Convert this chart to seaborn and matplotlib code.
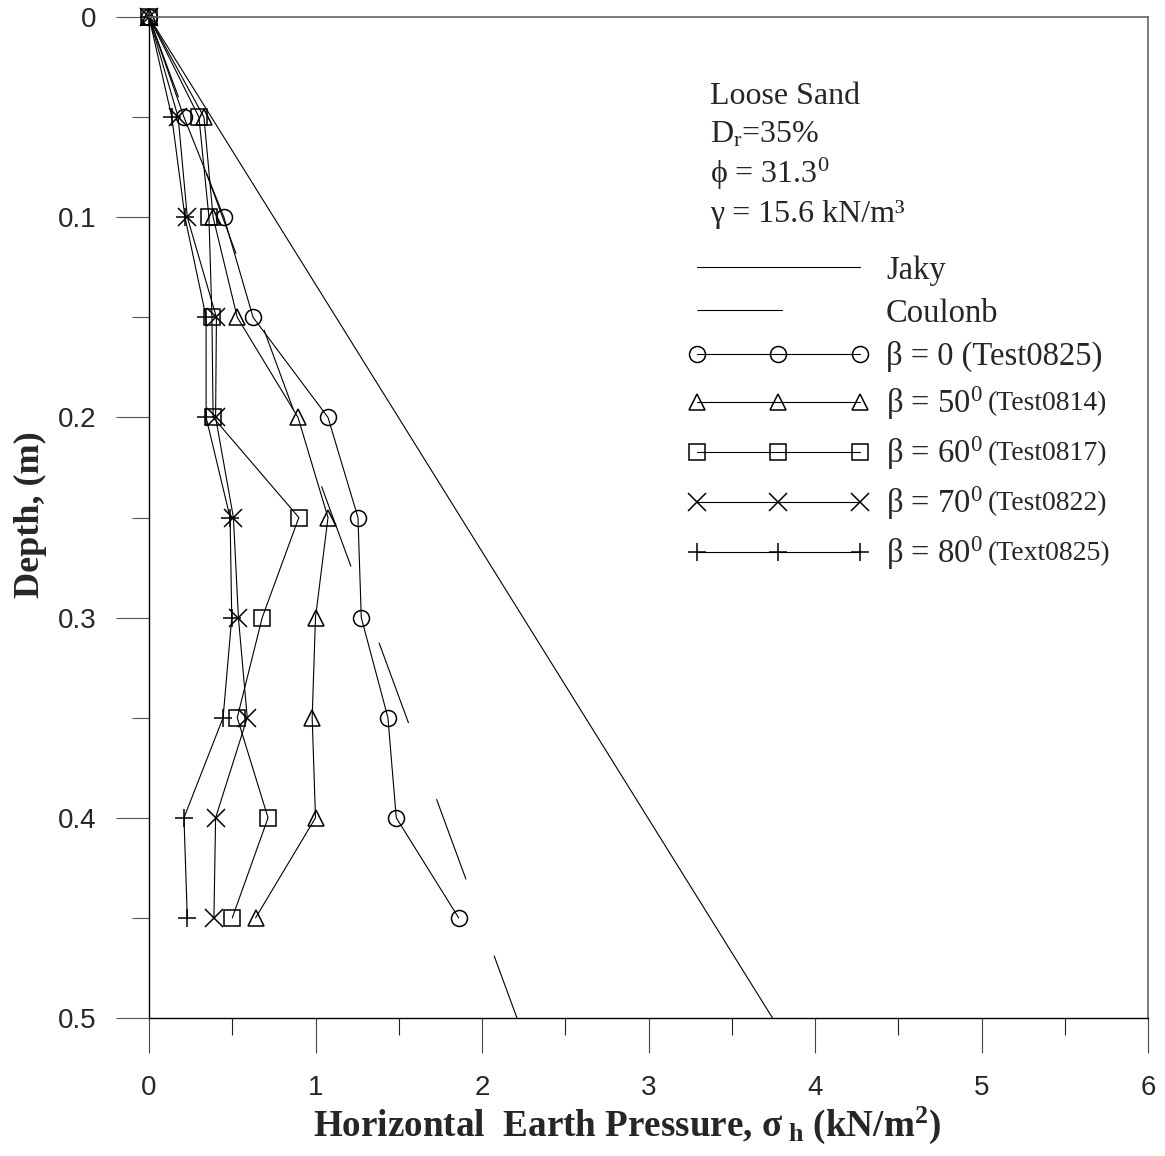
import numpy as np
import pandas as pd
import matplotlib
matplotlib.use('Agg')
import matplotlib.pyplot as plt
from matplotlib.ticker import MultipleLocator, FixedLocator
import seaborn as sns

# depth (m) and measured horizontal pressure (kN/m2) for each test
depth = [0, 0.05, 0.1, 0.15, 0.2, 0.25, 0.3, 0.35, 0.4, 0.45]
beta0 = [0, 0.21, 0.45, 0.625, 1.075, 1.255, 1.275, 1.435, 1.485, 1.86]
beta50 = [0, 0.33, 0.385, 0.53, 0.895, 1.075, 1.0, 0.98, 1.0, 0.64]
beta60 = [0, 0.30, 0.36, 0.378, 0.385, 0.90, 0.68, 0.53, 0.715, 0.50]
beta70 = [0, 0.175, 0.23, 0.405, 0.40, 0.507, 0.537, 0.59, 0.40, 0.39]
beta80 = [0, 0.137, 0.216, 0.343, 0.343, 0.487, 0.497, 0.445, 0.21, 0.23]

# theory lines
theory_depth = [0, 0.5]
jaky = [0, 3.745]
coulomb = [0, 2.21]

series_labels = ['β = 0 (Test0825)',
                 'β = 50$^{0}$',
                 'β = 60$^{0}$',
                 'β = 70$^{0}$',
                 'β = 80$^{0}$']
test_names = [None, '(Test0814)', '(Test0817)', '(Test0822)', '(Text0825)']
series_markers = ['o', '^', 's', 'x', '+']

sns.set_style('ticks')
plt.rcParams['font.family'] = ['Liberation Serif', 'DejaVu Serif']
plt.rcParams['mathtext.fontset'] = 'custom'
plt.rcParams['mathtext.rm'] = 'Liberation Serif'
plt.rcParams['mathtext.it'] = 'Liberation Serif:italic'
plt.rcParams['mathtext.bf'] = 'Liberation Serif:bold'

fig = plt.figure(figsize=(11.65, 11.56), dpi=100)
ax = fig.add_axes([149 / 1165, 1 - 1018 / 1156, 999 / 1165, 1001 / 1156])

lw = 0.8
sns.lineplot(x=jaky, y=theory_depth, orient='y', estimator=None, sort=False,
             color='black', linewidth=lw, label='Jaky', ax=ax)
sns.lineplot(x=coulomb, y=theory_depth, orient='y', estimator=None, sort=False,
             color='black', linewidth=lw, linestyle=(0, (77, 73)),
             label='Coulonb', ax=ax)

all_series = [beta0, beta50, beta60, beta70, beta80]
for vals, lab, mk in zip(all_series, series_labels, series_markers):
    ms = 13 if mk in ('x', '+') else 11.5
    sns.lineplot(x=vals, y=depth, orient='y', estimator=None, sort=False,
                 color='black', linewidth=lw, marker=mk, markersize=ms,
                 markerfacecolor='none', markeredgecolor='black',
                 markeredgewidth=1.1, label=lab, clip_on=False, ax=ax)

ax.set_xlim(0, 6)
ax.set_ylim(0.5, 0)

ax.xaxis.set_major_locator(FixedLocator([0, 1, 2, 3, 4, 5, 6]))
ax.xaxis.set_minor_locator(MultipleLocator(0.5))
ax.yaxis.set_major_locator(FixedLocator([0, 0.1, 0.2, 0.3, 0.4, 0.5]))
ax.yaxis.set_minor_locator(MultipleLocator(0.05))
ax.set_xticklabels(['0', '1', '2', '3', '4', '5', '6'])
ax.set_yticklabels(['0', '0.1', '0.2', '0.3', '0.4', '0.5'])

ax.tick_params(axis='x', which='major', direction='out', length=25, width=0.8,
               color='#444444', pad=16)
ax.tick_params(axis='x', which='minor', direction='out', length=12, width=0.8,
               color='#222222')
ax.tick_params(axis='y', which='major', direction='out', length=24, width=0.8,
               color='#555555', pad=14)
ax.tick_params(axis='y', which='minor', direction='out', length=12, width=0.8,
               color='#555555')
for t in ax.get_xticklabels() + ax.get_yticklabels():
    t.set_fontfamily('Liberation Sans')
    t.set_fontsize(20)

for side in ['left', 'bottom']:
    ax.spines[side].set_color('black')
    ax.spines[side].set_linewidth(1.0)
for side in ['top', 'right']:
    ax.spines[side].set_color('#666666')
    ax.spines[side].set_linewidth(1.2)

ax.set_xlabel('Horizontal  Earth Pressure, σ$_{\\ \\mathbf{h}}$ (kN/m$^{\\mathbf{2}}$)',
              fontsize=26.7, fontweight='bold')
ax.set_ylabel('Depth, (m)', fontsize=26, fontweight='bold')
ax.xaxis.set_label_coords(0.478, -0.087)
ax.yaxis.set_label_coords(-0.102, 0.503)

# soil properties block
info = ['Loose Sand', 'D$_{\\mathrm{r}}$=35%', 'ϕ = 31.3$^{0}$', 'γ = 15.6 kN/m³']
info_y = [0.921, 0.882, 0.843, 0.803]
for txt, yy in zip(info, info_y):
    ax.text(0.5616, yy, txt, transform=ax.transAxes, fontsize=23,
            va='center', ha='left')

handles, labels = ax.get_legend_handles_labels()
leg = ax.legend(handles, labels, loc='upper left',
                bbox_to_anchor=(0.5385, 0.762),
                frameon=False, fontsize=23.5, numpoints=3, handlelength=5.6,
                handletextpad=0.5, labelspacing=0.38, borderpad=0,
                borderaxespad=0)

# smaller test names after the beta labels, on the same baseline
fig.canvas.draw()
inv = fig.transFigure.inverted()
for txt_artist, name in zip(leg.get_texts()[2:], test_names):
    if name is None:
        continue
    bb = txt_artist.get_window_extent()
    x0, y0 = inv.transform((bb.x1 + 5, bb.y0 + 6))
    fig.text(x0, y0, name, fontsize=20, va='bottom', ha='left')

fig.savefig('out.png', dpi=100)
